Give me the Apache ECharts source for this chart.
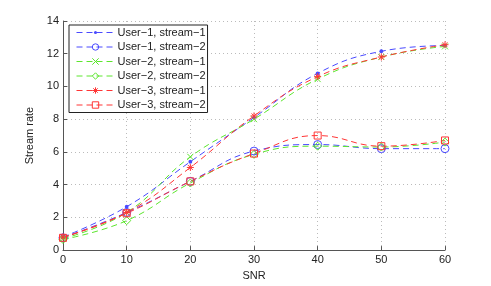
<!DOCTYPE html>
<html><head><meta charset="utf-8">
<script src="https://cdn.jsdelivr.net/npm/echarts@6/dist/echarts.min.js"></script>
<style>html,body{margin:0;padding:0;background:#fff}#c{width:491px;height:286px}</style>
</head><body><div id="c"></div>
<script>
const snr = [0, 10, 20, 30, 40, 50, 60];
const u1s1 = [0.80, 2.65, 5.40, 8.10, 10.80, 12.15, 12.50];
const u1s2 = [0.75, 2.30, 4.20, 6.05, 6.45, 6.20, 6.20];
const u2s1 = [0.70, 2.30, 5.70, 8.00, 10.45, 11.80, 12.45];
const u2s2 = [0.65, 1.80, 4.10, 5.85, 6.35, 6.30, 6.60];
const u3s1 = [0.80, 2.30, 5.05, 8.20, 10.60, 11.80, 12.55];
const u3s2 = [0.75, 2.25, 4.20, 5.90, 7.00, 6.35, 6.70];
const names = ['User−1, stream−1','User−1, stream−2','User−2, stream−1','User−2, stream−2','User−3, stream−1','User−3, stream−2'];

const BLUE = '#4a4aff', GREEN = '#5ce62e', RED = '#ff3535';
const XPATH = 'path://M0,0L10,10M10,0L0,10';
const STAR = 'path://M5,0L5,10M0,5L10,5M1.5,1.5L8.5,8.5M8.5,1.5L1.5,8.5';
const DOT = 'path://M0,0M10,10M5,2.6A2.4,2.4,0,1,1,5,7.4A2.4,2.4,0,1,1,5,2.6Z';
const DASH = [6, 4];

function mk(name, data, color, symbol, size, fill) {
  return {
    name, type: 'line', data: snr.map((x, i) => [x, data[i]]),
    symbol, symbolSize: size, smooth: 0.45,
    color: color,
    lineStyle: { color, width: 1, type: DASH },
    itemStyle: { color: fill ? color : 'rgba(0,0,0,0)', borderColor: color, borderWidth: fill ? 0 : 1 },
    emphasis: { disabled: true }, animation: false
  };
}
const specs = [
  [names[0], u1s1, BLUE, DOT, 8, true],
  [names[1], u1s2, BLUE, 'circle', 8, false],
  [names[2], u2s1, GREEN, XPATH, 6, false],
  [names[3], u2s2, GREEN, 'diamond', 8, false],
  [names[4], u3s1, RED, STAR, 7, false],
  [names[5], u3s2, RED, 'rect', 7, false]
];

const chart = echarts.init(document.getElementById('c'), null, { renderer: 'canvas' });
const font = 'Liberation Sans, Arial, Helvetica, sans-serif';
chart.setOption({
  animation: false,
  backgroundColor: '#fff',
  grid: { left: 63, right: 46, top: 21, bottom: 33, containLabel: false },
  xAxis: {
    type: 'value', min: 0, max: 60, interval: 10,
    name: 'SNR', nameLocation: 'middle', nameGap: 18,
    nameTextStyle: { fontFamily: font, fontSize: 11, color: '#222' },
    axisLine: { show: true, onZero: false, lineStyle: { color: '#555', width: 1 } },
    axisTick: { show: true, inside: true, length: 4, lineStyle: { color: '#555' } },
    axisLabel: { fontFamily: font, fontSize: 11, color: '#222', margin: 4 },
    splitLine: { show: true, lineStyle: { color: '#bbb', type: [1, 3] } }
  },
  yAxis: {
    type: 'value', min: 0, max: 14, interval: 2,
    name: 'Stream rate', nameLocation: 'middle', nameGap: 22, nameRotate: 90,
    nameTextStyle: { fontFamily: font, fontSize: 11, color: '#222' },
    axisLine: { show: true, onZero: false, lineStyle: { color: '#555', width: 1 } },
    axisTick: { show: true, inside: true, length: 4, lineStyle: { color: '#555' } },
    axisLabel: { fontFamily: font, fontSize: 11, color: '#222', margin: 4 },
    splitLine: { show: true, lineStyle: { color: '#bbb', type: [1, 3] } }
  },
  legend: {
    left: 69, top: 25, orient: 'vertical',
    backgroundColor: '#fff', borderColor: '#222', borderWidth: 1, borderRadius: 0,
    padding: [2, 2, 2, 7],
    itemWidth: 38, itemHeight: 8, itemGap: 3.5,
    textStyle: { fontFamily: font, fontSize: 11, color: '#222', padding: [0, 0, 0, -2] },
    data: specs.map(s => ({
      name: s[0],
      itemStyle: { color: s[5] ? s[2] : 'rgba(0,0,0,0)', borderColor: s[2], borderWidth: s[5] ? 0 : 1 },
      lineStyle: { color: s[2], width: 1, type: DASH }
    }))
  },
  series: specs.map(s => mk(...s))
});
</script></body></html>
